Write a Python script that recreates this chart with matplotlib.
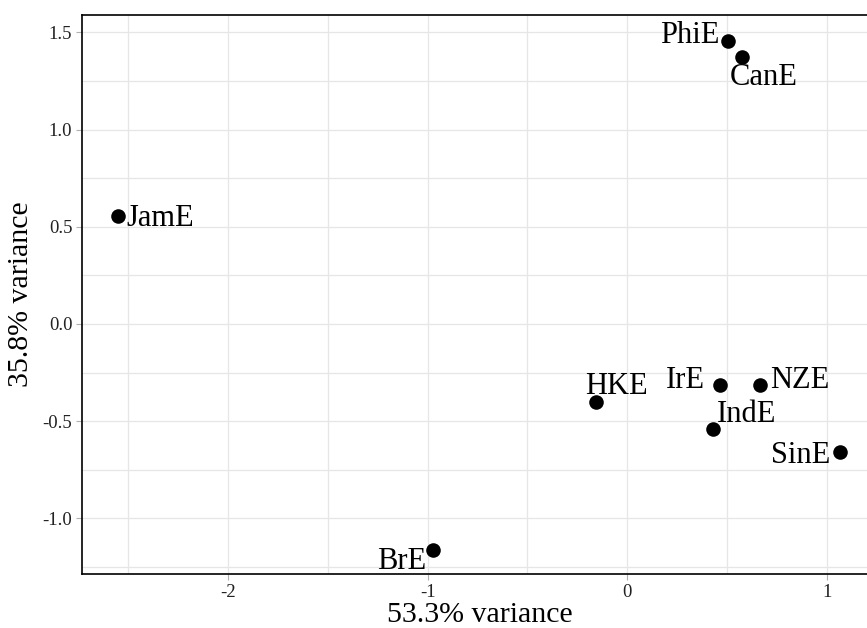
import numpy as np
import matplotlib
matplotlib.use("Agg")
import matplotlib.pyplot as plt
from matplotlib.ticker import MultipleLocator, FixedLocator

plt.rcParams['font.family'] = ['Liberation Serif', 'DejaVu Serif']
plt.rcParams['axes.unicode_minus'] = False

# PCA scores for each variety of English
varieties = ["PhiE", "CanE", "JamE", "HKE", "IrE", "NZE", "IndE", "SinE", "BrE"]
pc1 = [0.503, 0.573, -2.551, -0.158, 0.465, 0.665, 0.428, 1.066, -0.974]
pc2 = [1.457, 1.375, 0.557, -0.403, -0.312, -0.312, -0.542, -0.657, -1.160]

x_title = "53.3% variance"
y_title = "35.8% variance"

x_ticks = [-2, -1, 0, 1]
y_ticks = [-1.0, -0.5, 0.0, 0.5, 1.0, 1.5]

# where each label sits relative to its point (pixels, alignment)
label_offsets = {
    "PhiE": (-8, -2, "right"),
    "CanE": (-12, -28, "left"),
    "JamE": (8, -10, "left"),
    "HKE": (-11, 8, "left"),
    "IrE": (-15, -3, "right"),
    "NZE": (10, -3, "left"),
    "IndE": (4, 7, "left"),
    "SinE": (-10, -11, "right"),
    "BrE": (-7, -19, "right"),
}

fig = plt.figure(figsize=(8.67, 6.28), dpi=100)
ax = fig.add_axes([82 / 867, 1 - 574 / 628, (877 - 82) / 867, (574 - 15) / 628])

ax.scatter(pc1, pc2, s=110, color="black", zorder=3, linewidths=0)
for name, x, y in zip(varieties, pc1, pc2):
    dx, dy, ha = label_offsets[name]
    ax.annotate(name, (x, y), xytext=(dx, dy), textcoords="offset pixels",
                ha=ha, va="baseline", fontsize=22, color="black", zorder=4)

ax.set_xlim(-2.733, 1.252)
ax.set_ylim(-1.286, 1.589)

ax.xaxis.set_major_locator(FixedLocator(x_ticks))
ax.yaxis.set_major_locator(FixedLocator(y_ticks))
ax.xaxis.set_minor_locator(MultipleLocator(0.5))
ax.yaxis.set_minor_locator(MultipleLocator(0.25))
ax.set_xticklabels([f"{t:g}" for t in x_ticks])
ax.set_yticklabels([f"{t:.1f}" for t in y_ticks])

ax.grid(True, which="both", color="#e6e6e6", linewidth=0.9, zorder=0)
ax.set_axisbelow(True)
ax.tick_params(which="major", length=4, width=0.8, color="#b0b0b0",
               labelsize=13.5, labelcolor="#222222", pad=3)
ax.tick_params(which="minor", length=0)

for side in ["left", "bottom", "top"]:
    ax.spines[side].set_color("black")
    ax.spines[side].set_linewidth(1.2)
ax.spines["right"].set_visible(False)

ax.set_xlabel(x_title, fontsize=21.5, labelpad=1)
ax.set_ylabel(y_title, fontsize=21.5, labelpad=6)

fig.savefig("out.png", dpi=100)
